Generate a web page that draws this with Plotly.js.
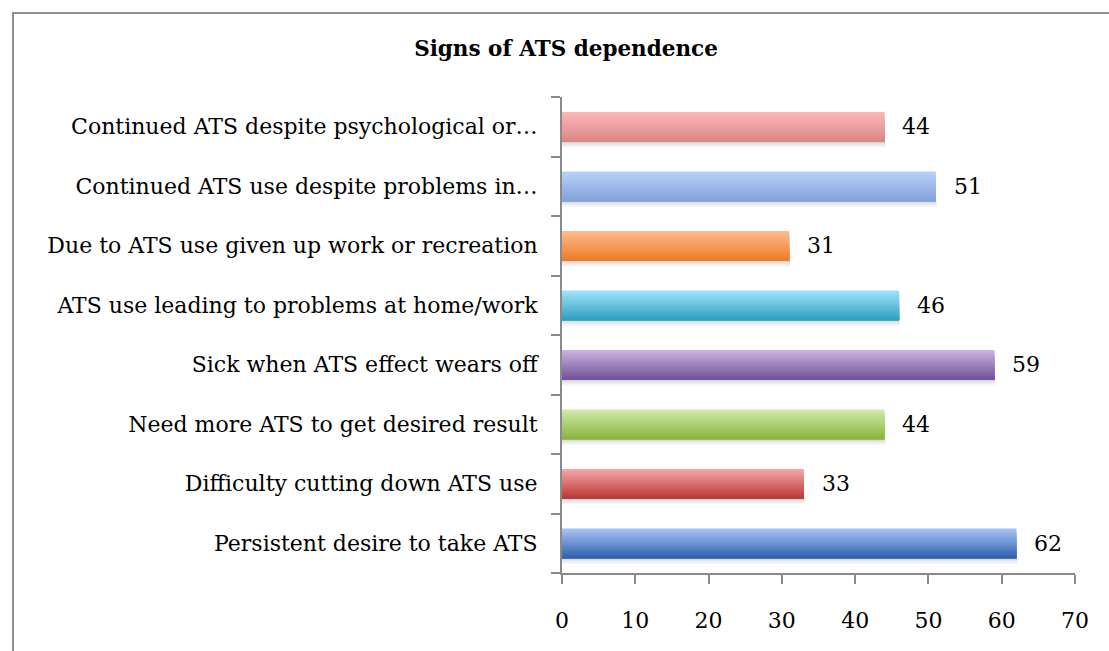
<!DOCTYPE html>
<html>
<head>
<meta charset="utf-8">
<script src="https://cdn.plot.ly/plotly-3.0.1.min.js"></script>
<style>
  html, body { margin: 0; padding: 0; background: #ffffff; }
  #wrap { position: relative; width: 1109px; height: 651px; overflow: hidden; }
  #frame { position: absolute; left: 12px; top: 12px; width: 1200px; height: 800px;
           border-left: 2px solid #8e8e8e; border-top: 2px solid #8e8e8e; }
  #chart { position: absolute; left: 0; top: 0; width: 1109px; height: 651px; }
</style>
</head>
<body>
<div id="wrap">
  <div id="frame"></div>
  <div id="chart"></div>
</div>
<script>
// ---- data (bottom to top, as drawn) ----
const categories = [
  "Persistent desire to take ATS",
  "Difficulty cutting down ATS use",
  "Need more ATS to get desired result",
  "Sick when ATS effect wears off",
  "ATS use leading to problems at home/work",
  "Due to ATS use given up work or recreation",
  "Continued ATS use despite problems in…",
  "Continued ATS despite psychological or…"
];
const values = [62, 33, 44, 59, 46, 31, 51, 44];
const xTicks = [0, 10, 20, 30, 40, 50, 60, 70];
const chartTitle = "Signs of ATS dependence";

// ---- styles ----
const topColors = ["#a6c2f5", "#f5a5a5", "#cfe9a6", "#c6b2e0", "#9de2fb", "#fdbb8e", "#b8d0fb", "#fdb6b6"];
const botColors = ["#3163ad", "#ba3939", "#8bb542", "#75539a", "#33a0c0", "#ef7d28", "#85a2da", "#db8787"];
const FONT = "DejaVu Serif";
const FS = 22;
const BAR_W = 0.5;
const BANDS = 16;

function hex2rgb(h) { return [1,3,5].map(i => parseInt(h.substr(i,2),16)); }
function mix(a, b, t) {
  const A = hex2rgb(a), B = hex2rgb(b);
  return "rgb(" + A.map((v,i) => Math.round(v + (B[i]-v)*t)).join(",") + ")";
}

const traces = [];
// soft shadow under each bar
const shadowAlphas = [0.16, 0.11, 0.07, 0.035];
shadowAlphas.forEach((a, k) => {
  traces.push({
    type: "bar", orientation: "h", x: values.map(v => v + 0.12), y: categories,
    width: 0.025, offset: -BAR_W/2 - 0.025*(k+1),
    marker: { color: "rgba(0,0,0," + a + ")", line: { width: 0 } },
    hoverinfo: "skip", showlegend: false
  });
});
// gradient: top colour first over the full bar, then darker layers growing from the bottom
const bw = BAR_W / BANDS;
for (let k = 0; k < BANDS; k++) {
  const t = k / (BANDS - 1);          // 0 = top colour, 1 = bottom colour
  const h = BAR_W - k * bw;           // layer spans from bar bottom up to h
  traces.push({
    type: "bar", orientation: "h", x: values, y: categories,
    width: h, offset: -BAR_W/2,
    marker: { color: categories.map((c, j) => mix(topColors[j], botColors[j], t)), line: { width: 0 } },
    hoverinfo: "skip", showlegend: false
  });
}

const annotations = values.map((v, j) => ({
  x: v, y: categories[j], xref: "x", yref: "y", text: String(v),
  xanchor: "left", yanchor: "middle", xshift: 16, showarrow: false,
  font: { family: FONT, size: FS, color: "#000000" }
}));

const layout = {
  width: 1109, height: 651,
  paper_bgcolor: "rgba(0,0,0,0)", plot_bgcolor: "rgba(0,0,0,0)",
  margin: { l: 562, r: 34, t: 97, b: 78, pad: 0 },
  barmode: "overlay",
  showlegend: false,
  title: { text: "<b>" + chartTitle + "</b>", x: 566/1109, xref: "container", xanchor: "center",
           y: 1 - 48/651, yref: "container", yanchor: "middle",
           font: { family: FONT, size: 21.5, color: "#000000" } },
  font: { family: FONT, size: FS, color: "#000000" },
  xaxis: {
    range: [0, 70], tickvals: xTicks, ticktext: xTicks.map(String),
    showgrid: false, zeroline: false,
    showline: true, linecolor: "#8a8a8a", linewidth: 2,
    ticks: "outside", ticklen: 9, tickwidth: 2, tickcolor: "#8a8a8a",
    ticklabelstandoff: 18,
    tickfont: { family: FONT, size: FS, color: "#000000" }
  },
  yaxis: {
    type: "category", categoryorder: "array", categoryarray: categories,
    range: [-0.5, 7.5], tickson: "boundaries",
    showgrid: false, zeroline: false,
    showline: true, linecolor: "#8a8a8a", linewidth: 2,
    ticks: "outside", ticklen: 9, tickwidth: 2, tickcolor: "#8a8a8a",
    ticklabelstandoff: 18,
    tickfont: { family: FONT, size: FS, color: "#000000" }
  },
  annotations: annotations
};

Plotly.newPlot("chart", traces, layout, { displayModeBar: false, staticPlot: true });
</script>
</body>
</html>
